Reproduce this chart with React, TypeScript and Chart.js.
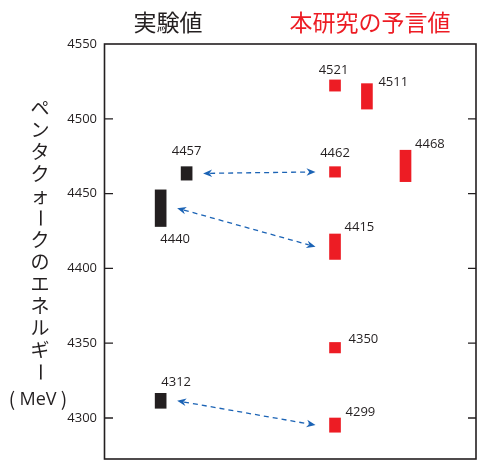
import { useEffect, useRef } from "react";
import { Chart, registerables } from "chart.js";

Chart.register(...registerables);

// ---- data ----
const yTicks = [4300, 4350, 4400, 4450, 4500, 4550];
const yMin = 4272.6;
const yMax = 4550;

const expLabels = ["4440", "4457", "4312"];
const expX = [15, 22, 15];
const expLow = [4428, 4459, 4306.5];
const expHigh = [4452.5, 4468, 4316.5];

const predLabels = ["4521", "4511", "4462", "4468", "4415", "4350", "4299"];
const predX = [62, 70.6, 62, 81, 62, 62, 62];
const predLow = [4518.5, 4506.5, 4461, 4458, 4406, 4343.5, 4290.5];
const predHigh = [4526, 4523.5, 4468, 4479, 4423, 4350.5, 4300];

// experimental index -> prediction index
const arrowPairs = [
  [1, 2],
  [0, 4],
  [2, 6],
];

const expTitle = "実験値";
const predTitle = "本研究の予言値";
const axisTitle = "ペンタクォークのエネルギー";
const unitTitle = "MeV";

// ---- styles ----
const INK = "#231F20";
const RED = "#ED1C24";
const BLUE = "#1B63B5";

type Place = { a: "top" | "bottom"; dx: number; dy: number; align: CanvasTextAlign };
const expPlace: Place[] = [
  { a: "bottom", dx: 14.5, dy: 13, align: "center" },
  { a: "top", dx: 0, dy: -15, align: "center" },
  { a: "top", dx: 15.5, dy: -11, align: "center" },
];
const predPlace: Place[] = [
  { a: "top", dx: -1.5, dy: -10, align: "center" },
  { a: "top", dx: 11.5, dy: -1, align: "left" },
  { a: "top", dx: 0, dy: -13, align: "center" },
  { a: "top", dx: 9.5, dy: -6, align: "left" },
  { a: "top", dx: 9.5, dy: -7, align: "left" },
  { a: "top", dx: 13.5, dy: -3, align: "left" },
  { a: "top", dx: 10.5, dy: -6, align: "left" },
];

function drawHead(ctx: CanvasRenderingContext2D, x: number, y: number, a: number) {
  const L = 9;
  const W = 3.8;
  const c = Math.cos(a);
  const s = Math.sin(a);
  ctx.beginPath();
  ctx.moveTo(x, y);
  ctx.lineTo(x - L * c - W * s, y - L * s + W * c);
  ctx.lineTo(x - 0.7 * L * c, y - 0.7 * L * s);
  ctx.lineTo(x - L * c + W * s, y - L * s - W * c);
  ctx.closePath();
  ctx.fill();
}

function drawArrow(ctx: CanvasRenderingContext2D, x1: number, y1: number, x2: number, y2: number) {
  const a = Math.atan2(y2 - y1, x2 - x1);
  const c = Math.cos(a);
  const s = Math.sin(a);
  ctx.save();
  ctx.strokeStyle = BLUE;
  ctx.fillStyle = BLUE;
  ctx.lineWidth = 1.3;
  ctx.setLineDash([5, 4]);
  ctx.beginPath();
  ctx.moveTo(x1 + 7 * c, y1 + 7 * s);
  ctx.lineTo(x2 - 7 * c, y2 - 7 * s);
  ctx.stroke();
  ctx.setLineDash([]);
  drawHead(ctx, x2, y2, a);
  drawHead(ctx, x1, y1, a + Math.PI);
  ctx.restore();
}

function barBox(el: any) {
  const top = Math.min(el.y, el.base);
  const bottom = Math.max(el.y, el.base);
  return { cx: el.x, left: el.x - el.width / 2, right: el.x + el.width / 2, top, bottom, mid: (top + bottom) / 2 };
}

const overlay = {
  id: "overlay",
  afterDraw(chart: any) {
    const ctx: CanvasRenderingContext2D = chart.ctx;
    const { left, right, top, bottom } = chart.chartArea;
    const ys = chart.scales.y;
    ctx.save();

    // frame
    ctx.strokeStyle = INK;
    ctx.lineWidth = 1.6;
    ctx.strokeRect(left - 0.5, top, right - left + 0.5, bottom - top);

    // inward ticks
    ctx.lineWidth = 1.3;
    ys.ticks.forEach((t: any) => {
      const py = ys.getPixelForValue(t.value);
      if (py <= top + 2) return;
      ctx.beginPath();
      ctx.moveTo(left, py);
      ctx.lineTo(left + 8, py);
      ctx.moveTo(right - 8, py);
      ctx.lineTo(right, py);
      ctx.stroke();
    });

    // bar labels
    ctx.font = "13px 'Open Sans'";
    ctx.fillStyle = INK;
    ctx.textBaseline = "middle";
    const metaE = chart.getDatasetMeta(0);
    const metaP = chart.getDatasetMeta(1);
    metaE.data.forEach((el: any, i: number) => {
      const b = barBox(el);
      const p = expPlace[i];
      ctx.textAlign = p.align;
      ctx.fillText(expLabels[i], b.cx + p.dx, (p.a === "top" ? b.top : b.bottom) + p.dy);
    });
    metaP.data.forEach((el: any, i: number) => {
      const b = barBox(el);
      const p = predPlace[i];
      ctx.textAlign = p.align;
      ctx.fillText(predLabels[i], b.cx + p.dx, (p.a === "top" ? b.top : b.bottom) + p.dy);
    });

    // arrows
    arrowPairs.forEach(([ei, pi]) => {
      const e = barBox(metaE.data[ei]);
      const p = barBox(metaP.data[pi]);
      drawArrow(ctx, e.right + 11, e.mid, p.left - 14, p.mid);
    });

    // titles
    ctx.textAlign = "center";
    ctx.font = "23px 'Noto Sans CJK JP'";
    ctx.fillStyle = INK;
    ctx.fillText(expTitle, 168, 22);
    ctx.fillStyle = RED;
    ctx.fillText(predTitle, 370, 22);

    // vertical axis title
    ctx.fillStyle = INK;
    ctx.font = "19px 'Noto Sans CJK JP'";
    const chars = Array.from(axisTitle);
    chars.forEach((ch, i) => {
      const cy = 108 + i * 22;
      if (ch === "ー") {
        ctx.save();
        ctx.translate(40, cy);
        ctx.rotate(Math.PI / 2);
        ctx.fillText(ch, 0, 0);
        ctx.restore();
      } else {
        ctx.fillText(ch, 40, cy);
      }
    });
    ctx.font = "19px 'Noto Sans CJK JP'";
    ctx.fillText("(", 12, 399);
    ctx.fillText(")", 64, 399);
    ctx.font = "18px 'Open Sans'";
    ctx.fillText(unitTitle, 38, 400);

    ctx.restore();
  },
};

export default function App() {
  const ref = useRef<HTMLCanvasElement | null>(null);

  useEffect(() => {
    if (!ref.current) return;
    const chart = new Chart(ref.current, {
      type: "bar",
      data: {
        datasets: [
          {
            label: expTitle,
            data: expX.map((x, i) => ({ x, y: [expLow[i], expHigh[i]] })) as any,
            backgroundColor: INK,
            borderWidth: 0,
            barThickness: 11,
            grouped: false,
          },
          {
            label: predTitle,
            data: predX.map((x, i) => ({ x, y: [predLow[i], predHigh[i]] })) as any,
            backgroundColor: RED,
            borderWidth: 0,
            barThickness: 11,
            grouped: false,
          },
        ],
      },
      options: {
        responsive: false,
        animation: false,
        layout: { padding: { top: 44, right: 7, bottom: 1, left: 0 } },
        plugins: { legend: { display: false }, tooltip: { enabled: false } },
        scales: {
          x: { type: "linear", min: 0, max: 100, display: false, offset: false },
          y: {
            type: "linear",
            min: yMin,
            max: yMax,
            afterBuildTicks: (axis: any) => {
              axis.ticks = yTicks.map((v) => ({ value: v }));
            },
            afterFit: (axis: any) => {
              axis.width = 105;
              axis.paddingTop = 0;
              axis.paddingBottom = 0;
            },
            grid: { display: false, drawTicks: false },
            border: { display: false },
            ticks: {
              padding: 8,
              color: INK,
              font: { family: "'Open Sans'", size: 13 },
              callback: (v: any) => String(v),
            },
          },
        },
      },
      plugins: [overlay],
    });
    return () => chart.destroy();
  }, []);

  return (
    <div style={{ position: "absolute", left: 0, top: 0, width: 483, height: 460, background: "#fff" }}>
      <canvas ref={ref} width={483} height={460} style={{ display: "block" }} />
    </div>
  );
}
